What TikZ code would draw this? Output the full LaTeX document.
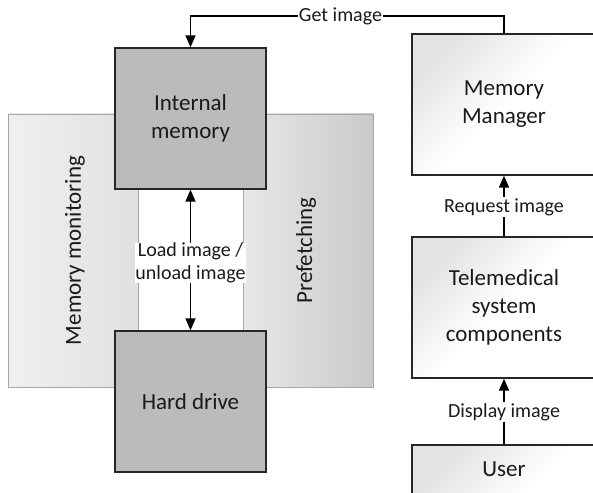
\documentclass[tikz,border=0pt]{standalone}
\usepackage{fontspec}
\setmainfont{Carlito}
\usetikzlibrary{arrows.meta}
\definecolor{boxgray}{HTML}{BBBBBB}
\definecolor{edgec}{HTML}{262626}
\definecolor{panelline}{HTML}{A6A6A6}
\definecolor{inkc}{HTML}{1A1A1A}
\tikzset{
  boxtext/.style={font=\fontsize{23bp}{28bp}\selectfont, align=center, text=inkc},
  lbltext/.style={font=\fontsize{20bp}{23bp}\selectfont, align=center, text=inkc},
  storebox/.style={boxtext, draw=edgec, line width=1.3bp, fill=boxgray,
    minimum width=151bp, minimum height=141bp, inner sep=0pt},
  sysbox/.style={boxtext, draw=edgec, line width=1.3bp,
    shading=axis, top color=black!11, bottom color=white, middle color=white,
    shading angle=45, minimum width=184bp, minimum height=141bp, inner sep=0pt},
  lbl/.style={lbltext, fill=white, inner sep=1bp},
  conn/.style={draw=black, line width=1.4bp},
  arr/.style={conn, -{Triangle[length=12bp,width=10bp]}},
}
\begin{document}
\begin{tikzpicture}[x=1bp, y=-1bp]
  \path[use as bounding box, clip] (0,0) rectangle (593,493);

  % side panels around the memory stack
  \shade[left color=black!6, right color=black!12] (8,114) rectangle (138,387);
  \shade[left color=black!9, right color=black!21] (243,114) rectangle (373,387);
  \fill[white] (138,114) rectangle (243,387);
  \draw[panelline, line width=0.7bp] (8,114) rectangle (373,387);
  \draw[panelline, line width=0.7bp] (138,114) -- (138,387) (243,114) -- (243,387);
  \node[boxtext, rotate=90] (monitor) at (75,250.5) {Memory monitoring};
  \node[boxtext, rotate=90] (prefetch) at (306,250.5) {Prefetching};

  % storage blocks
  \node[storebox] (im) at (190.5,118.5) {Internal\\memory};
  \node[storebox] (hd) at (190.5,401.5) {Hard drive};

  % system side
  \node[sysbox] (mm) at (504,104.5) {Memory\\Manager};
  \node[sysbox] (tele) at (504,307.5) {Telemedical\\system\\components};
  \node[sysbox, label={[boxtext, anchor=center, label distance=-25bp]north:User}] (user) at (504,515.5) {};

  % labels on the connectors
  \node[lbl] (getlbl) at (340.5,16) {Get image};
  \node[lbl] (reqlbl) at (504,207) {Request image};
  \node[lbl] (displbl) at (504,412) {Display image};
  \node[lbl, inner sep=0pt] (loadlbl) at (190.5,263) {Load image /\\unload image};

  % connectors
  \draw[conn] (mm.north) |- (getlbl.east);
  \draw[arr] (getlbl.west) -| (im.north);
  \draw[conn] (tele.north) -- (reqlbl.south);
  \draw[arr] (reqlbl.north) -- (mm.south);
  \draw[conn] (user.north) -- (displbl.south);
  \draw[arr] (displbl.north) -- (tele.south);
  \draw[arr] (loadlbl.north) -- (im.south);
  \draw[arr] (loadlbl.south) -- (hd.north);
\end{tikzpicture}
\end{document}
